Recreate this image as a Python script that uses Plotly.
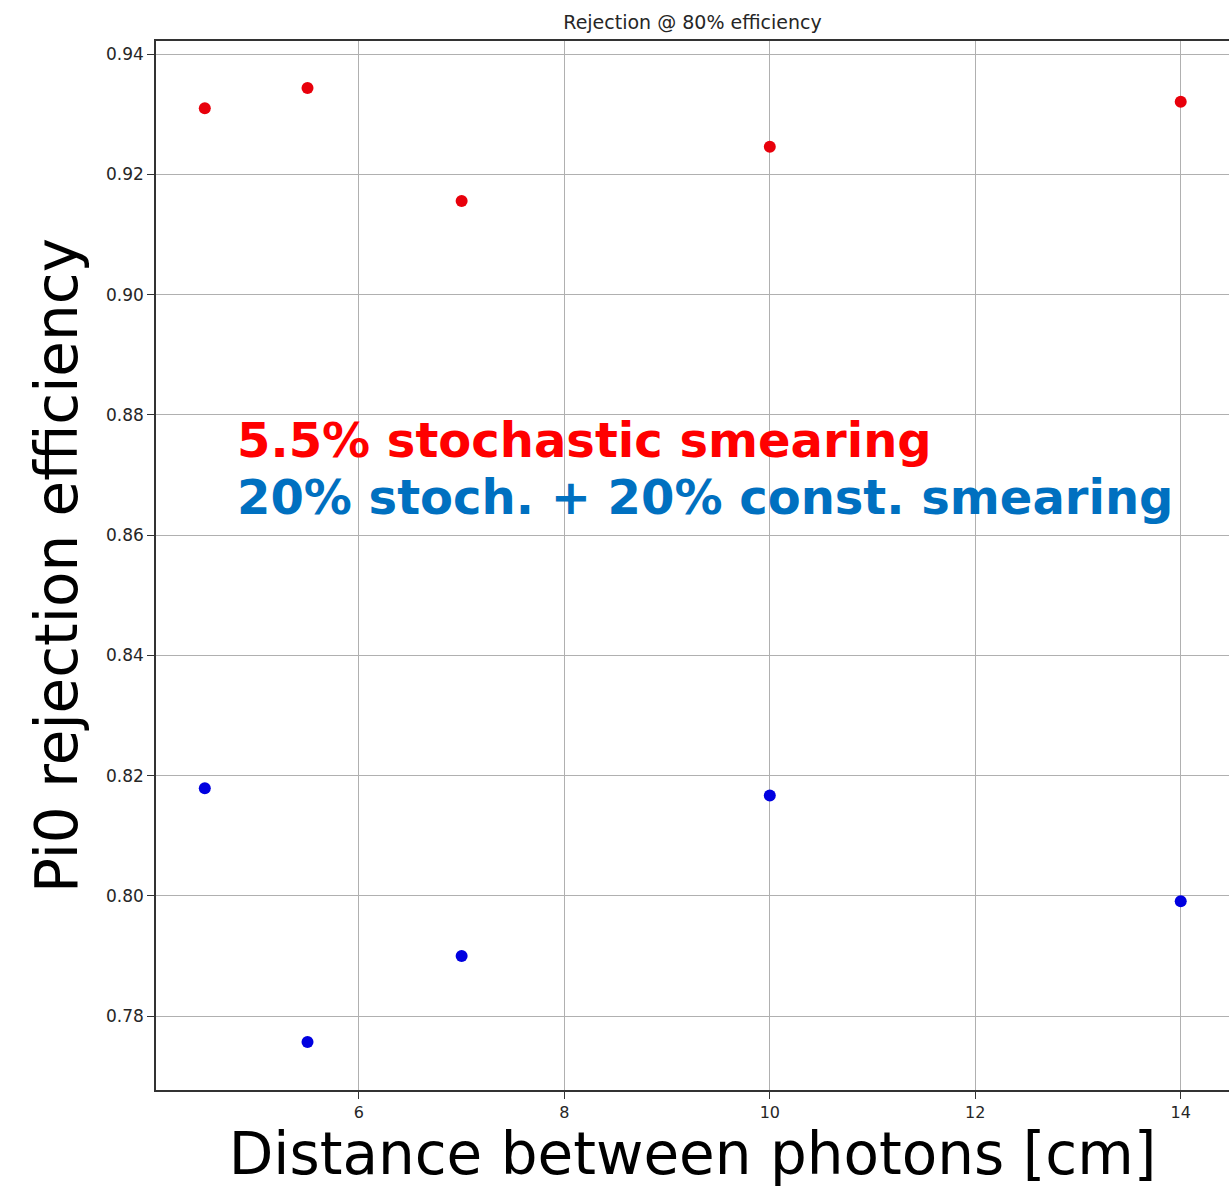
import plotly.graph_objects as go

distance = [4.5, 5.5, 7, 10, 14]
rej_stoch55 = [0.9310, 0.9344, 0.9156, 0.9246, 0.9321]
rej_stoch20_const20 = [0.8179, 0.7757, 0.7900, 0.8167, 0.7991]

x_ticks = [6, 8, 10, 12, 14]
y_ticks = [0.78, 0.80, 0.82, 0.84, 0.86, 0.88, 0.90, 0.92, 0.94]

W, H = 1229, 1188
L, R, T, B = 156, 0, 41, 98
ph = H - T - B

fig = go.Figure()
fig.add_trace(go.Scatter(x=distance, y=rej_stoch55, mode="markers",
                         marker=dict(color="#e8000b", size=12), showlegend=False))
fig.add_trace(go.Scatter(x=distance, y=rej_stoch20_const20, mode="markers",
                         marker=dict(color="#0000e0", size=12), showlegend=False))

font_family = "DejaVu Sans"
fig.update_layout(
    width=W, height=H,
    margin=dict(l=L, r=R, t=T, b=B),
    paper_bgcolor="white", plot_bgcolor="white",
    font=dict(family=font_family, color="#262626"),
    title=dict(text="Rejection @ 80% efficiency", x=(L + (W - R)) / 2 / W, xanchor="center",
               y=1 - 22 / H, yanchor="middle", font=dict(size=19, color="#262626")),
    xaxis=dict(range=[4.025, 14.47], tickvals=x_ticks, ticktext=[str(v) for v in x_ticks],
               showgrid=True, gridcolor="#b0b0b0", gridwidth=1,
               showline=True, linecolor="#333333", linewidth=1.5, mirror=True,
               ticks="outside", ticklen=7, tickcolor="#333333",
               tickfont=dict(size=16, color="#262626"), zeroline=False,
               title=dict(text="Distance between photons [cm]", font=dict(size=58, color="black"),
                          standoff=8)),
    yaxis=dict(range=[0.7677, 0.9422], tickvals=y_ticks, ticktext=[f"{v:.2f}" for v in y_ticks],
               showgrid=True, gridcolor="#b0b0b0", gridwidth=1,
               showline=True, linecolor="#333333", linewidth=1.5, mirror=False,
               ticks="outside", ticklen=7, tickcolor="#333333",
               tickfont=dict(size=17, color="#262626"), zeroline=False,
               title=dict(text="Pi0 rejection efficiency", font=dict(size=58, color="black"),
                          standoff=10)),
)

def py(p):
    return (H - B - p) / ph

fig.add_annotation(text="<b>5.5% stochastic smearing</b>", xref="paper", yref="paper",
                   x=(235 - L) / (W - L - R), y=py(440), xanchor="left", yanchor="middle",
                   showarrow=False, font=dict(size=48, color="#ff0000", family=font_family))
fig.add_annotation(text="<b>20% stoch. + 20% const. smearing</b>", xref="paper", yref="paper",
                   x=(235 - L) / (W - L - R), y=py(497), xanchor="left", yanchor="middle",
                   showarrow=False, font=dict(size=48, color="#0070c0", family=font_family))

fig.write_html("out.html")
